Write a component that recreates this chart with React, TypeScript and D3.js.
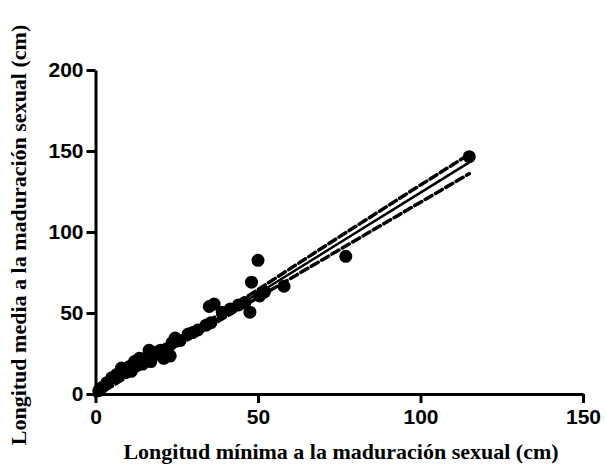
import { useEffect, useRef } from 'react';
import * as d3 from 'd3';

// minimum length at sexual maturity (cm)
const minLen = [
  1, 2, 3.5, 5, 6.5, 7, 8, 9.5, 10.5, 11, 12, 13, 13.5, 14.5, 15, 16, 16.5, 17,
  18, 19, 20, 21, 22, 23, 23.5, 24.5, 26, 28.5, 30, 31.5, 34, 35, 35.5, 36.5,
  39, 41.5, 44, 46, 47.5, 48, 50, 50.5, 52, 58, 77, 115,
];
// mean length at sexual maturity (cm)
const meanLen = [
  2, 4, 7, 10, 12, 11, 16, 13.5, 17, 14, 20, 18, 22, 18.5, 21, 23, 27, 20,
  24, 26, 27, 22, 28, 23.5, 31.5, 34.5, 33, 37, 38, 39.5, 42.5, 54, 44, 55.5,
  50.5, 52.5, 55, 56.5, 50.5, 69, 82.5, 60.5, 63, 66.5, 85, 146.5,
];

// fitted line and 95% confidence band
const fitX = [0, 25, 50, 75, 100, 115];
const fitY = [0, 31, 62, 93.2, 124.3, 143];
const bandUpper = [2, 32.5, 64.5, 97, 129, 148];
const bandLower = [-1.5, 29.5, 59.5, 89, 118.4, 136];

const xTicks = [0, 50, 100, 150];
const yTicks = [0, 50, 100, 150, 200];

const width = 605;
const height = 465;
const marginLeft = 95.5;
const marginRight = 22;
const marginTop = 70;
const marginBottom = 71;

const tickFont = "'Liberation Sans', Arial, sans-serif";
const titleFont = "'Liberation Serif', 'Times New Roman', serif";

function App() {
  const gx = useRef<SVGGElement>(null);
  const gy = useRef<SVGGElement>(null);

  const x = d3.scaleLinear().domain([0, 150]).range([marginLeft, width - marginRight]);
  const y = d3.scaleLinear().domain([0, 200]).range([height - marginBottom, marginTop]);

  const line = d3.line<number>()
    .x((_, i) => x(fitX[i]))
    .y(d => y(d));

  useEffect(() => {
    const ax = d3.select(gx.current!);
    ax.call(d3.axisBottom(x).tickValues(xTicks).tickSize(9).tickSizeOuter(0).tickPadding(6) as any);
    ax.selectAll('path, line').attr('stroke', '#000').attr('stroke-width', 3);
    ax.selectAll('text')
      .attr('font-family', tickFont)
      .attr('font-weight', 'bold')
      .attr('font-size', 21)
      .attr('fill', '#000');
  }, []);

  useEffect(() => {
    const ay = d3.select(gy.current!);
    ay.call(d3.axisLeft(y).tickValues(yTicks).tickSize(9).tickSizeOuter(0).tickPadding(3) as any);
    ay.selectAll('path, line').attr('stroke', '#000').attr('stroke-width', 3);
    ay.selectAll('text')
      .attr('font-family', tickFont)
      .attr('font-weight', 'bold')
      .attr('font-size', 21)
      .attr('fill', '#000');
  }, []);

  return (
    <svg
      width={width}
      height={height}
      viewBox={`0 0 ${width} ${height}`}
      style={{ position: 'absolute', left: 0, top: 0, background: '#fff' }}
    >
      <g ref={gx} transform={`translate(0, ${height - marginBottom})`} />
      <g ref={gy} transform={`translate(${marginLeft}, 0)`} />

      <g fill="#000">
        {minLen.map((d, i) => (
          <circle key={i} cx={x(d)} cy={y(meanLen[i])} r={6.5} />
        ))}
      </g>

      <path d={line(fitY) || ''} fill="none" stroke="#000" strokeWidth={2.5} />
      <path d={line(bandUpper) || ''} fill="none" stroke="#000" strokeWidth={3.5}
        strokeDasharray="8 4" strokeLinecap="round" />
      <path d={line(bandLower) || ''} fill="none" stroke="#000" strokeWidth={3.5}
        strokeDasharray="8 4" strokeLinecap="round" />

      <text
        x={341}
        y={459}
        textAnchor="middle"
        style={{ fontFamily: titleFont, fontWeight: 'bold', fontSize: '22px', fill: '#000' }}
      >Longitud mínima a la maduración sexual (cm)</text>

      <text
        transform={`translate(26, 235) rotate(-90)`}
        textAnchor="middle"
        style={{ fontFamily: titleFont, fontWeight: 'bold', fontSize: '22px', fill: '#000' }}
      >Longitud media a la maduración sexual (cm)</text>
    </svg>
  );
}

export default App;
